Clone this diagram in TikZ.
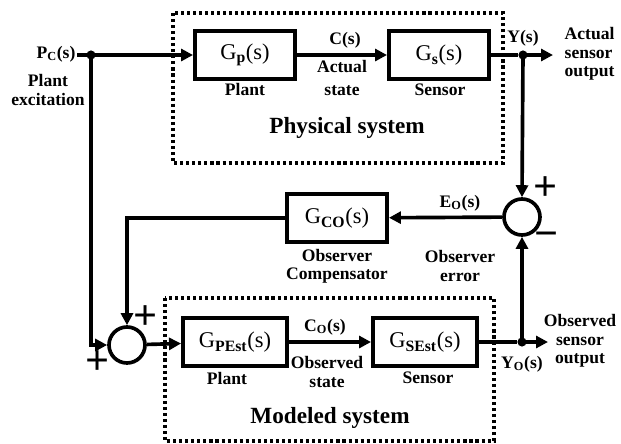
\documentclass[tikz,border=0pt]{standalone}
\usepackage{fontspec}
\setmainfont{Liberation Serif}
\usetikzlibrary{positioning,arrows.meta}

\begin{document}
\begin{tikzpicture}[x=0.025cm, y=-0.025cm,
    every node/.style={font=\bfseries\fontsize{12.5}{13}\selectfont, align=center, inner sep=1pt},
    blk/.style={draw, line width=2.8pt, minimum width=2.5cm, minimum height=1.2cm,
                inner sep=0pt, font=\fontsize{16}{18}\selectfont},
    sumc/.style={draw, circle, line width=2.6pt, minimum size=0.9cm, inner sep=0pt},
    arr/.style={-{Triangle[length=8.5pt,width=8.5pt]}, line width=2.6pt},
    ln/.style={line width=2.6pt},
    sys/.style={draw, line width=2.4pt, dash pattern=on 2.2pt off 2.1pt},
    jdot/.style={circle, fill=black, inner sep=0pt, minimum size=6.5pt},
    sgn/.style={font=\bfseries\fontsize{30}{30}\selectfont},
    title/.style={font=\bfseries\fontsize{16.5}{18}\selectfont},
]
\useasboundingbox (0,0) rectangle (621,443);

% system frames
\draw[sys] (173,13) rectangle (503,163);
\draw[sys] (165,298) rectangle (494,441);
\node[title] (phys) at (347,128) {Physical system};
\node[title] (modl) at (330,418) {Modeled system};

% blocks
\node[blk] (gp)  at (245,55)  {G\textsubscript{\textbf{p}}(s)};
\node[blk] (gs)  at (439,55)  {G\textsubscript{\textbf{s}}(s)};
\node[blk] (gco) at (337,218) {G\textsubscript{\textbf{CO}}(s)};
\node[blk, minimum width=2.6cm] (gpe) at (235,342) {G\textsubscript{\textbf{PEst}}(s)};
\node[blk, minimum width=2.6cm] (gse) at (425,342) {G\textsubscript{\textbf{SEst}}(s)};

\node[sumc] (sum1) at (522,217) {};
\node[sumc] (sum2) at (127,345) {};

\node[jdot] (jin) at (91,55) {};
\node[jdot] (jy)  at (523,55) {};
\node[jdot] (jyo) at (522,342) {};
\coordinate (yout)  at (553,55);
\coordinate (yoout) at (548,342);

% labels
\node (pc)   at (56,54)   {P\textsubscript{C}(s)};
\node (pcx)  at (48,90)   {Plant\\excitation};
\node (gpl)  at (245,89)  {Plant};
\node (cs)   at (345,40)  {C(s)};
\node (cst)  at (342,78)  {Actual\\[4pt]state};
\node (gsl)  at (440,90)  {Sensor};
\node (ys)   at (523,38)  {Y(s)};
\node[anchor=west, align=left] (yso) at (563,54) {Actual\\sensor\\output};
\node (eo)   at (460,203) {E\textsubscript{O}(s)};
\node (eoe)  at (460,266) {Observer\\error};
\node (gcol) at (337,266) {Observer\\Compensator};
\node (co)   at (325,327) {C\textsubscript{O}(s)};
\node (cot)  at (327,372) {Observed\\state};
\node (gpel) at (227,378) {Plant};
\node (gsel) at (428,378) {Sensor};
\node (yo)   at (522,364) {Y\textsubscript{O}(s)};
\node (yoo)  at (580,341) {Observed\\sensor\\output};

% signs
\node[sgn] (p1) at (546,189) {+};
\node[sgn] (m1) at (547,240) {−};
\node[sgn] (p2) at (146,318) {+};
\node[sgn] (p3) at (98,363)  {+};

% signal paths
\draw[arr] (pc.east |- jin) -- (gp.west);
\draw[arr] (gp) -- (gs);
\draw[ln]  (gs) -- (jy);
\draw[arr] (jy.center) -- (yout);
\draw[arr] (jy.center) -- (sum1.north);
\draw[arr] (sum1) -- (gco);
\draw[arr] (gco.west) -| (sum2.north);
\draw[arr] (jin.center) |- (sum2.west);
\draw[arr] (sum2) -- (gpe);
\draw[arr] (gpe) -- (gse);
\draw[ln]  (gse) -- (jyo);
\draw[arr] (jyo.center) -- (yoout);
\draw[arr] (jyo.center) -- (sum1.south);
\end{tikzpicture}
\end{document}
